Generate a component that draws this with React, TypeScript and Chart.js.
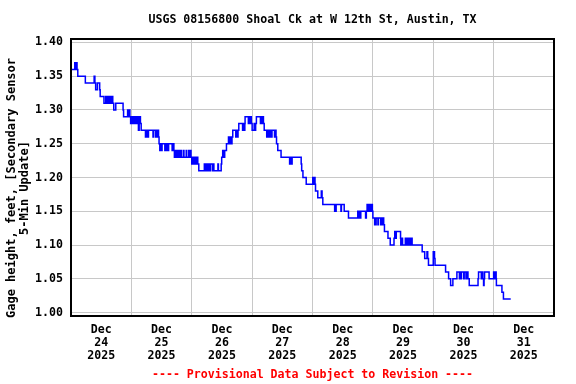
import React, { useEffect, useRef } from 'react';
import { Chart, registerables } from 'chart.js';

Chart.register(...registerables);

// ---- text ----
const chartTitle = 'USGS 08156800 Shoal Ck at W 12th St, Austin, TX';
const yTitleLines = ['Gage height, feet, [Secondary Sensor', '5-Min Update]'];
const footnote = '---- Provisional Data Subject to Revision ----';
const monthLabel = 'Dec';
const yearLabel = '2025';
const dayLabels = ['24', '25', '26', '27', '28', '29', '30', '31'];

// ---- y axis ----
const yTicks = [1.0, 1.05, 1.1, 1.15, 1.2, 1.25, 1.3, 1.35, 1.4];
const yMin = 0.995;
const yMax = 1.405;

// ---- gage height readings: [hour of day, feet] ----
const dec24: [number, number][] = [
  [0, 1.37], [1.5, 1.36], [1.8, 1.37], [2.1, 1.36], [2.4, 1.37], [2.7, 1.36], [5.7, 1.35],
  [9.2, 1.34], [9.5, 1.35], [9.8, 1.34], [10.5, 1.33], [11.4, 1.34], [11.6, 1.33], [13.1, 1.32],
  [13.8, 1.31], [14.2, 1.32], [14.6, 1.31], [15.0, 1.32], [15.4, 1.31], [15.8, 1.32], [16.2, 1.31],
  [16.6, 1.32], [17.0, 1.31], [17.8, 1.3], [20.7, 1.31], [20.9, 1.3], [22.5, 1.29], [22.8, 1.3],
  [23.1, 1.29], [23.4, 1.3], [23.7, 1.29],
];
const dec25: [number, number][] = [
  [0.0, 1.28], [0.4, 1.29], [0.8, 1.28], [1.2, 1.29], [1.6, 1.28], [2.0, 1.29], [2.4, 1.28],
  [2.8, 1.29], [3.1, 1.27], [3.3, 1.28], [3.6, 1.29], [3.9, 1.28], [5.6, 1.27], [6.2, 1.26],
  [6.5, 1.27], [6.8, 1.26], [8.6, 1.27], [8.8, 1.26], [9.6, 1.27], [9.9, 1.26], [10.2, 1.27],
  [10.5, 1.26], [10.8, 1.27], [11.0, 1.26], [11.3, 1.25], [11.5, 1.24], [12.0, 1.25], [12.2, 1.24],
  [13.3, 1.25], [13.6, 1.24], [13.9, 1.25], [14.2, 1.24], [14.5, 1.25], [14.8, 1.24], [16.2, 1.25],
  [16.4, 1.24], [16.9, 1.25], [17.1, 1.24], [17.3, 1.23], [17.7, 1.24], [18.1, 1.23], [18.5, 1.24],
  [18.9, 1.23], [19.3, 1.24], [19.6, 1.23], [19.9, 1.24], [20.7, 1.23], [20.9, 1.24], [21.8, 1.23],
  [22.0, 1.24], [22.8, 1.23], [23.0, 1.24], [23.5, 1.23], [23.7, 1.24],
];
const dec26: [number, number][] = [
  [0.0, 1.23], [0.3, 1.22], [0.6, 1.23], [0.9, 1.22], [1.2, 1.23], [1.5, 1.22], [1.8, 1.23],
  [2.1, 1.22], [2.4, 1.23], [2.8, 1.22], [5.0, 1.21], [5.3, 1.22], [5.6, 1.21], [5.9, 1.22],
  [6.2, 1.21], [6.5, 1.22], [6.8, 1.21], [7.1, 1.22], [7.4, 1.21], [8.2, 1.22], [8.6, 1.21],
  [8.8, 1.22], [10.4, 1.21], [10.6, 1.22], [11.7, 1.21], [11.9, 1.22], [12.3, 1.23], [12.9, 1.24],
  [13.1, 1.23], [13.8, 1.24], [14.6, 1.25], [15.1, 1.26], [15.4, 1.25], [15.7, 1.26], [16.0, 1.25],
  [16.3, 1.26], [17.5, 1.27], [17.8, 1.26], [18.1, 1.27], [18.4, 1.26], [18.7, 1.27], [20.2, 1.28],
  [20.5, 1.27], [20.8, 1.28], [21.1, 1.27], [21.2, 1.28], [22.5, 1.29], [22.8, 1.28], [23.1, 1.29],
  [23.4, 1.28], [23.7, 1.29],
];
const dec27: [number, number][] = [
  [0.0, 1.28], [0.8, 1.27], [1.1, 1.28], [1.4, 1.27], [1.7, 1.28], [3.3, 1.29], [3.6, 1.28],
  [3.9, 1.29], [4.2, 1.28], [4.5, 1.29], [4.8, 1.28], [5.8, 1.27], [6.1, 1.26], [6.4, 1.27],
  [6.7, 1.26], [7.0, 1.27], [7.3, 1.26], [7.6, 1.27], [7.9, 1.26], [8.9, 1.27], [9.1, 1.26],
  [9.5, 1.27], [9.7, 1.26], [10.2, 1.25], [11.5, 1.24], [14.9, 1.23], [15.3, 1.22], [15.6, 1.23],
  [15.9, 1.22], [19.5, 1.23], [19.7, 1.22], [20.2, 1.21], [21.5, 1.2],
];
const dec28: [number, number][] = [
  [0.1, 1.19], [0.4, 1.2], [0.7, 1.19], [1.0, 1.2], [1.2, 1.19], [2.1, 1.18], [3.5, 1.17],
  [3.8, 1.18], [4.1, 1.17], [8.8, 1.16], [9.4, 1.15], [11.3, 1.16], [11.5, 1.15], [12.6, 1.16],
  [14.3, 1.15], [18.0, 1.14], [18.3, 1.15], [18.6, 1.14], [18.9, 1.15], [19.2, 1.14], [21.1, 1.15],
  [21.4, 1.14], [21.7, 1.15], [22.0, 1.16], [22.3, 1.15], [22.6, 1.16], [22.9, 1.15], [23.2, 1.16],
  [23.5, 1.15], [23.8, 1.16],
];
const dec29: [number, number][] = [
  [0.0, 1.15], [0.7, 1.14], [1.3, 1.13], [2.0, 1.14], [2.2, 1.13], [3.1, 1.14], [3.4, 1.13],
  [3.7, 1.14], [4.0, 1.13], [4.3, 1.14], [4.6, 1.13], [6.0, 1.12], [6.9, 1.11], [8.4, 1.1],
  [8.7, 1.11], [9.2, 1.12], [9.3, 1.11], [11.0, 1.12], [11.1, 1.11], [11.3, 1.1], [11.8, 1.11],
  [12.9, 1.1], [13.2, 1.11], [13.5, 1.1], [13.8, 1.11], [14.1, 1.1], [14.4, 1.11], [14.7, 1.1],
  [15.0, 1.11], [15.3, 1.1], [15.6, 1.11], [19.6, 1.1], [20.6, 1.09], [21.5, 1.08], [21.8, 1.09],
  [22.1, 1.08], [22.3, 1.07],
];
const dec30: [number, number][] = [
  [0.0, 1.07], [0.5, 1.09], [0.7, 1.08], [4.9, 1.07], [6.1, 1.06], [6.9, 1.05], [7.8, 1.04],
  [9.4, 1.05], [10.4, 1.06], [10.6, 1.05], [11.0, 1.06], [11.2, 1.05], [12.1, 1.06], [12.3, 1.05],
  [13.0, 1.06], [13.2, 1.05], [13.8, 1.06], [14.3, 1.05], [17.8, 1.04], [18.0, 1.05], [19.1, 1.06],
  [19.4, 1.05], [19.7, 1.06], [20.0, 1.05], [20.2, 1.04], [20.4, 1.05], [22.2, 1.06], [22.4, 1.05],
];
const dec31: [number, number][] = [
  [0.0, 1.05], [0.4, 1.06], [0.6, 1.05], [1.0, 1.06], [1.1, 1.05], [3.3, 1.04], [3.9, 1.03],
  [4.7, 1.02], [6.8, 1.02],
];

const dailyReadings = [dec24, dec25, dec26, dec27, dec28, dec29, dec30, dec31];

const FONT = '"DejaVu Sans Mono", "Liberation Mono", monospace';

const textPlugin = {
  id: 'usgsText',
  afterDatasetsDraw(chart: any) {
    const { ctx, chartArea: a } = chart;
    ctx.save();
    ctx.strokeStyle = '#000000';
    ctx.lineWidth = 2;
    ctx.strokeRect(a.left, a.top, a.right - a.left, a.bottom - a.top);
    ctx.restore();
  },
  afterDraw(chart: any) {
    const { ctx, chartArea: a } = chart;
    const cx = (a.left + a.right) / 2;
    ctx.save();
    ctx.textAlign = 'center';
    ctx.textBaseline = 'middle';
    ctx.font = `bold 11.6px ${FONT}`;
    ctx.fillStyle = '#000000';
    ctx.fillText(chartTitle, cx, 20);
    ctx.fillStyle = '#ff0000';
    ctx.fillText(footnote, cx, 375);
    ctx.fillStyle = '#000000';
    ctx.font = `bold 12px ${FONT}`;
    ctx.translate(12, 188);
    ctx.rotate(-Math.PI / 2);
    yTitleLines.forEach((t, i) => ctx.fillText(t, 0, i * 13));
    ctx.restore();
  },
};

export default function App() {
  const ref = useRef<HTMLCanvasElement | null>(null);

  useEffect(() => {
    document.body.style.margin = '0';
    const canvas = ref.current;
    if (!canvas) return;

    const points = dailyReadings.flatMap((day, i) =>
      day.map(([h, v]) => ({ x: i * 24 + h, y: v }))
    );
    const spanHours = dayLabels.length * 24;
    const xTickValues: number[] = [];
    for (let h = 0; h <= spanHours; h += 12) xTickValues.push(h);

    const tickFont = { family: FONT, size: 11.6, weight: 'bold' as const, lineHeight: 13 / 11.6 };

    const chart = new Chart(canvas, {
      type: 'line',
      data: {
        datasets: [
          {
            data: points,
            borderColor: '#0000ff',
            borderWidth: 1.5,
            pointRadius: 0,
            stepped: 'after',
            tension: 0,
            fill: false,
          },
        ],
      },
      options: {
        animation: false,
        responsive: false,
        devicePixelRatio: 1,
        layout: { padding: { top: 39, right: 22, bottom: 21.5, left: 35 } },
        plugins: {
          legend: { display: false },
          tooltip: { enabled: false },
          title: { display: false },
        },
        scales: {
          x: {
            type: 'linear',
            min: 0,
            max: spanHours,
            afterBuildTicks: (scale: any) => {
              scale.ticks = xTickValues.map((v) => ({ value: v }));
            },
            afterFit: (scale: any) => {
              scale.height = 46.5;
            },
            border: { display: false },
            grid: {
              drawTicks: false,
              lineWidth: 1,
              color: (c: any) =>
                c.tick && c.tick.value % 24 === 0 && c.tick.value > 0 && c.tick.value < spanHours
                  ? '#c8c8c8'
                  : 'rgba(0,0,0,0)',
            },
            ticks: {
              autoSkip: false,
              maxRotation: 0,
              minRotation: 0,
              padding: 7.5,
              color: '#000000',
              font: tickFont,
              callback: (value: any) => {
                const v = Number(value);
                if (v % 24 !== 12) return '';
                return [monthLabel, dayLabels[Math.floor(v / 24)], yearLabel];
              },
            },
          },
          y: {
            type: 'linear',
            min: yMin,
            max: yMax,
            afterBuildTicks: (scale: any) => {
              scale.ticks = yTicks.map((v) => ({ value: v }));
            },
            afterFit: (scale: any) => {
              scale.width = 36;
            },
            border: { display: false },
            grid: { drawTicks: false, lineWidth: 1, color: '#c8c8c8' },
            ticks: {
              padding: 8,
              color: '#000000',
              font: tickFont,
              callback: (value: any) => Number(value).toFixed(2),
            },
          },
        },
      },
      plugins: [textPlugin],
    });

    return () => chart.destroy();
  }, []);

  return (
    <div style={{ width: 576, height: 384 }}>
      <canvas ref={ref} width={576} height={384} style={{ display: 'block' }} />
    </div>
  );
}
